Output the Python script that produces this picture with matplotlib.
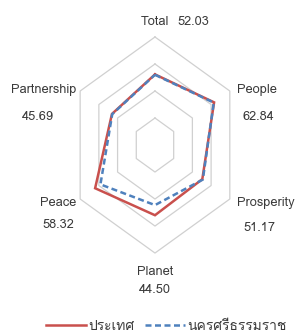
import numpy as np
import matplotlib
matplotlib.use('Agg')
import matplotlib.pyplot as plt
from matplotlib import font_manager as fm
from matplotlib.ft2font import FT2Font
from matplotlib.lines import Line2D

# Chart data
categories = ['Total', 'People', 'Prosperity', 'Planet', 'Peace', 'Partnership']
country = [52.3, 63.2, 50.6, 52.0, 64.0, 46.0]
province = [52.03, 62.84, 51.17, 44.50, 58.32, 45.69]
grid_levels = [20, 40, 60, 80]
series_names = ['ประเทศ', 'นครศรีธรรมราช']


def find_thai_font():
    """Return the name of an installed font that has Thai glyphs"""
    for f in fm.fontManager.ttflist:
        try:
            if 0x0E1B in FT2Font(f.fname).get_charmap():
                return f.name
        except Exception:
            pass
    return None


families = ['Liberation Sans Narrow']
thai = find_thai_font()
if thai:
    families.append(thai)
families.append('DejaVu Sans')
plt.rcParams['font.family'] = families

text_color = '#3a3a3a'
red = '#c9504d'
blue = '#4f81bd'
fs = 9.2

# Make figure, one axes over the whole canvas
fig = plt.figure(figsize=(2.97, 3.35), dpi=100)
ax = fig.add_axes([0, 0, 1, 1])
ax.set_xlim(-143.5, 131.5)
ax.set_ylim(-140.7, 107.4)
ax.axis('off')

# Angles, clockwise from the top
n = len(categories)
theta = np.arange(n) * 2 * np.pi / n


def hexagon(vals):
    vals = np.asarray(vals, dtype=float)
    x = vals * np.sin(theta)
    y = vals * np.cos(theta)
    return np.append(x, x[0]), np.append(y, y[0])


# Hexagonal grid
for lev in grid_levels:
    gx, gy = hexagon([lev] * n)
    ax.plot(gx, gy, color='#d0d0d0', lw=0.9, zorder=1)

# Series
cx, cy = hexagon(country)
ax.plot(cx, cy, color=red, lw=1.8, zorder=3, solid_joinstyle='miter')
px, py = hexagon(province)
ax.plot(px, py, color=blue, lw=1.8, zorder=4, dashes=(2.4, 1.4))

# Category labels and values (offsets in pixels from outer vertex)
name_style = [((0, 15), 'center'), ((7, 1), 'left'), ((7, -4), 'left'),
              ((0, -19), 'center'), ((-4, -4), 'right'), ((-4, 1), 'right')]
value_off = [(38, 15), (29, -26), (30, -29), (0, -37), (-22, -26), (-42, -26)]
vx, vy = hexagon([grid_levels[-1]] * n)
for i in range(n):
    (off, ha) = name_style[i]
    ax.annotate(categories[i], xy=(vx[i], vy[i]), xytext=off,
                textcoords='offset pixels', ha=ha, va='center',
                fontsize=fs, color=text_color)
    ax.annotate(f'{province[i]:.2f}', xy=(vx[i], vy[i]), xytext=value_off[i],
                textcoords='offset pixels', ha='center', va='center',
                fontsize=fs, color=text_color)

# Legend
handles = [Line2D([], [], color=red, lw=1.8),
           Line2D([], [], color=blue, lw=1.8, dashes=(2.4, 1.4))]
fig.legend(handles, series_names, loc='center', bbox_to_anchor=(0.56, 0.025),
           ncol=2, frameon=False, fontsize=10, handlelength=2.9,
           handletextpad=0.2, columnspacing=0.7, labelcolor=text_color)

fig.savefig('out.png', dpi=100)
